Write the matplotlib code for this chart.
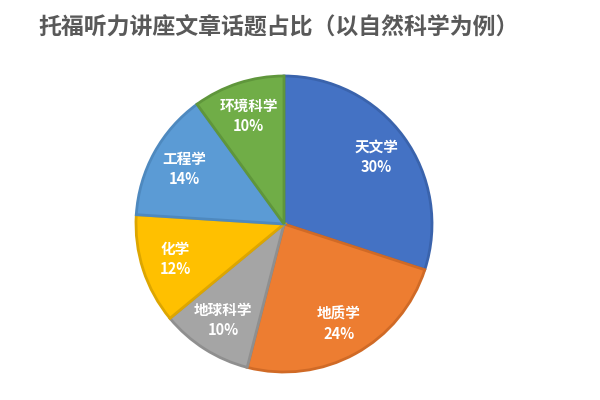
import matplotlib.pyplot as plt

plt.rcParams['font.family'] = ['Noto Sans CJK SC', 'DejaVu Sans']

topics = ['天文学', '地质学', '地球科学', '化学', '工程学', '环境科学']
shares = [30, 24, 10, 12, 14, 10]
face_colors = ['#4472C4', '#ED7D31', '#A5A5A5', '#FFC000', '#5B9BD5', '#70AD47']
edge_colors = ['#3A63AC', '#D06A26', '#8F8F8F', '#DDA600', '#4E89BF', '#5F963B']

fig = plt.figure(figsize=(6, 4), dpi=100)
fig.patch.set_facecolor('white')

# pie centre ~ (284, 224) px, radius ~148 px
ax = fig.add_axes([(284 - 148) / 600, (400 - 224 - 148) / 400, 296 / 600, 296 / 400])

labels = [f'{t}\n{s}%' for t, s in zip(topics, shares)]
wedges, texts = ax.pie(shares, labels=labels, colors=face_colors, startangle=90,
                       counterclock=False, labeldistance=0.77, radius=1,
                       wedgeprops=dict(linewidth=2.0),
                       textprops=dict(color='white', fontsize=10.5, fontweight='bold'))
for w, ec in zip(wedges, edge_colors):
    w.set_edgecolor(ec)
for t in texts:
    t.set_ha('center')
    t.set_va('center')
    t.set_linespacing(1.3)

ax.set_xlim(-1, 1)
ax.set_ylim(-1, 1)
ax.set_aspect('equal')
ax.axis('off')

fig.text(38 / 600, 1 - 28 / 400, '托福听力讲座文章话题占比（以自然科学为例）',
         fontsize=16.5, fontweight='bold', color='#595959', ha='left', va='center')

plt.savefig('out.png', dpi=100)
